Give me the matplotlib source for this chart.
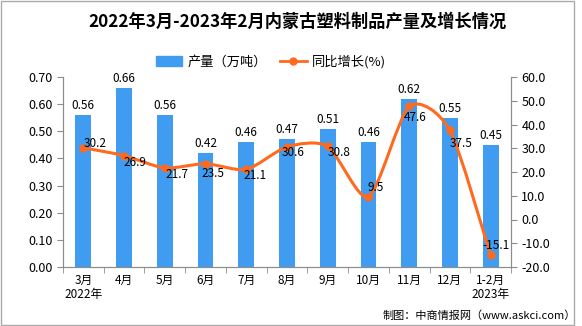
"""2022年3月-2023年2月内蒙古塑料制品产量及增长情况 (bar + smoothed growth line)."""

import numpy as np
import matplotlib
matplotlib.use("Agg")
import matplotlib.pyplot as plt
from matplotlib.path import Path
from matplotlib.patches import PathPatch, Rectangle
from matplotlib.lines import Line2D

plt.rcParams["font.family"] = ["Noto Sans CJK SC", "DejaVu Sans"]
plt.rcParams["axes.unicode_minus"] = False

months = ["3月\n2022年", "4月", "5月", "6月", "7月", "8月", "9月",
          "10月", "11月", "12月", "1-2月\n2023年"]
output = [0.56, 0.66, 0.56, 0.42, 0.46, 0.47, 0.51, 0.46, 0.62, 0.55, 0.45]
growth = [30.2, 26.9, 21.7, 23.5, 21.1, 30.6, 30.8, 9.5, 47.6, 37.5, -15.1]

# label offsets (pixels) for the growth labels
growth_label_offsets = [(12, 4), (11, -7), (12, -7), (7, -10), (9, -6), (6, -6),
                        (11, -6), (7, 9), (6, -11), (11, -13), (5, 10)]

BAR = "#3f9cf0"
LINE = "#ff6a1f"
GRAY = "#8c8c8c"


def smooth_path(xs, ys, k=0.25):
    """Catmull-Rom style cubic Bezier path through the given points."""
    pts = np.column_stack([xs, ys]).astype(float)
    n = len(pts)
    verts = [pts[0]]
    codes = [Path.MOVETO]
    for i in range(n - 1):
        p0 = pts[max(i - 1, 0)]
        p1 = pts[i]
        p2 = pts[i + 1]
        p3 = pts[min(i + 2, n - 1)]
        c1 = p1 + (p2 - p0) * k / 2
        c2 = p2 - (p3 - p1) * k / 2
        verts += [c1, c2, p2]
        codes += [Path.CURVE4] * 3
    return Path(verts, codes)


fig = plt.figure(figsize=(5.82, 3.26), dpi=100)
ax = fig.add_axes([63 / 582, 1 - 267 / 326, 448 / 582, 190 / 326])
ax2 = ax.twinx()

x = np.arange(len(months))
ax.bar(x, output, width=0.39, color=BAR, zorder=2)
for xi, v in zip(x, output):
    ax.annotate(f"{v:.2f}", (xi, v), xytext=(0, 3), textcoords="offset pixels",
                ha="center", va="bottom", fontsize=8.5)

ax.set_xlim(-0.5, len(months) - 0.5)
ax.set_ylim(0, 0.70)
ax.set_yticks(np.arange(0, 0.71, 0.10))
ax.set_yticklabels([f"{v:.2f}" for v in np.arange(0, 0.71, 0.10)], fontsize=9)
ax.set_xticks(x)
ax.set_xticklabels(months, fontsize=8.5, linespacing=1.1)
ax.set_xticks(np.arange(-0.5, len(months)), minor=True)
ax.tick_params(axis="x", which="major", length=0, pad=5)
ax.tick_params(axis="x", which="minor", length=4, color=GRAY)
ax.tick_params(axis="y", length=4, color=GRAY)

ax2.set_ylim(-20, 60)
ax2.set_yticks(np.arange(-20, 61, 10))
ax2.set_yticklabels([f"{v:.1f}" for v in np.arange(-20, 61, 10)], fontsize=9)
ax2.tick_params(axis="y", length=4, color=GRAY)

for a in (ax, ax2):
    a.spines["top"].set_visible(False)
    for s in ("left", "right", "bottom"):
        a.spines[s].set_color(GRAY)

ax2.add_patch(PathPatch(smooth_path(x, growth), fill=False, edgecolor=LINE,
                        lw=2.2, zorder=3))
ax2.plot(x, growth, "o", color=LINE, ms=5, zorder=4)
for xi, v, (dx, dy) in zip(x, growth, growth_label_offsets):
    ax2.annotate(f"{v:.1f}", (xi, v), xytext=(dx, dy), textcoords="offset pixels",
                 ha="center", va="center", fontsize=8.5, zorder=5)

fig.text(298 / 582, 1 - 22 / 326, "2022年3月-2023年2月内蒙古塑料制品产量及增长情况",
         ha="center", va="center", fontsize=12.4, fontweight="bold")

handles = [Rectangle((0, 0), 1, 1, color=BAR),
           Line2D([], [], color=LINE, lw=2, marker="o", ms=5)]
fig.legend(handles, ["产量（万吨）", "同比增长(%)"], loc="center",
           bbox_to_anchor=(271 / 582, 1 - 62 / 326), ncol=2, frameon=False,
           fontsize=9.5, handlelength=2.0, handleheight=0.8, columnspacing=1.0,
           handletextpad=0.4)

fig.text(576 / 582, 1 - 316 / 326, "制图：中商情报网（www.askci.com）",
         ha="right", va="center", fontsize=8)

fig.patches.append(Rectangle((0.001, 0.003), 0.985, 0.994, transform=fig.transFigure,
                             fill=False, edgecolor="#aaaaaa", lw=1))

fig.savefig("out.png", dpi=100)
